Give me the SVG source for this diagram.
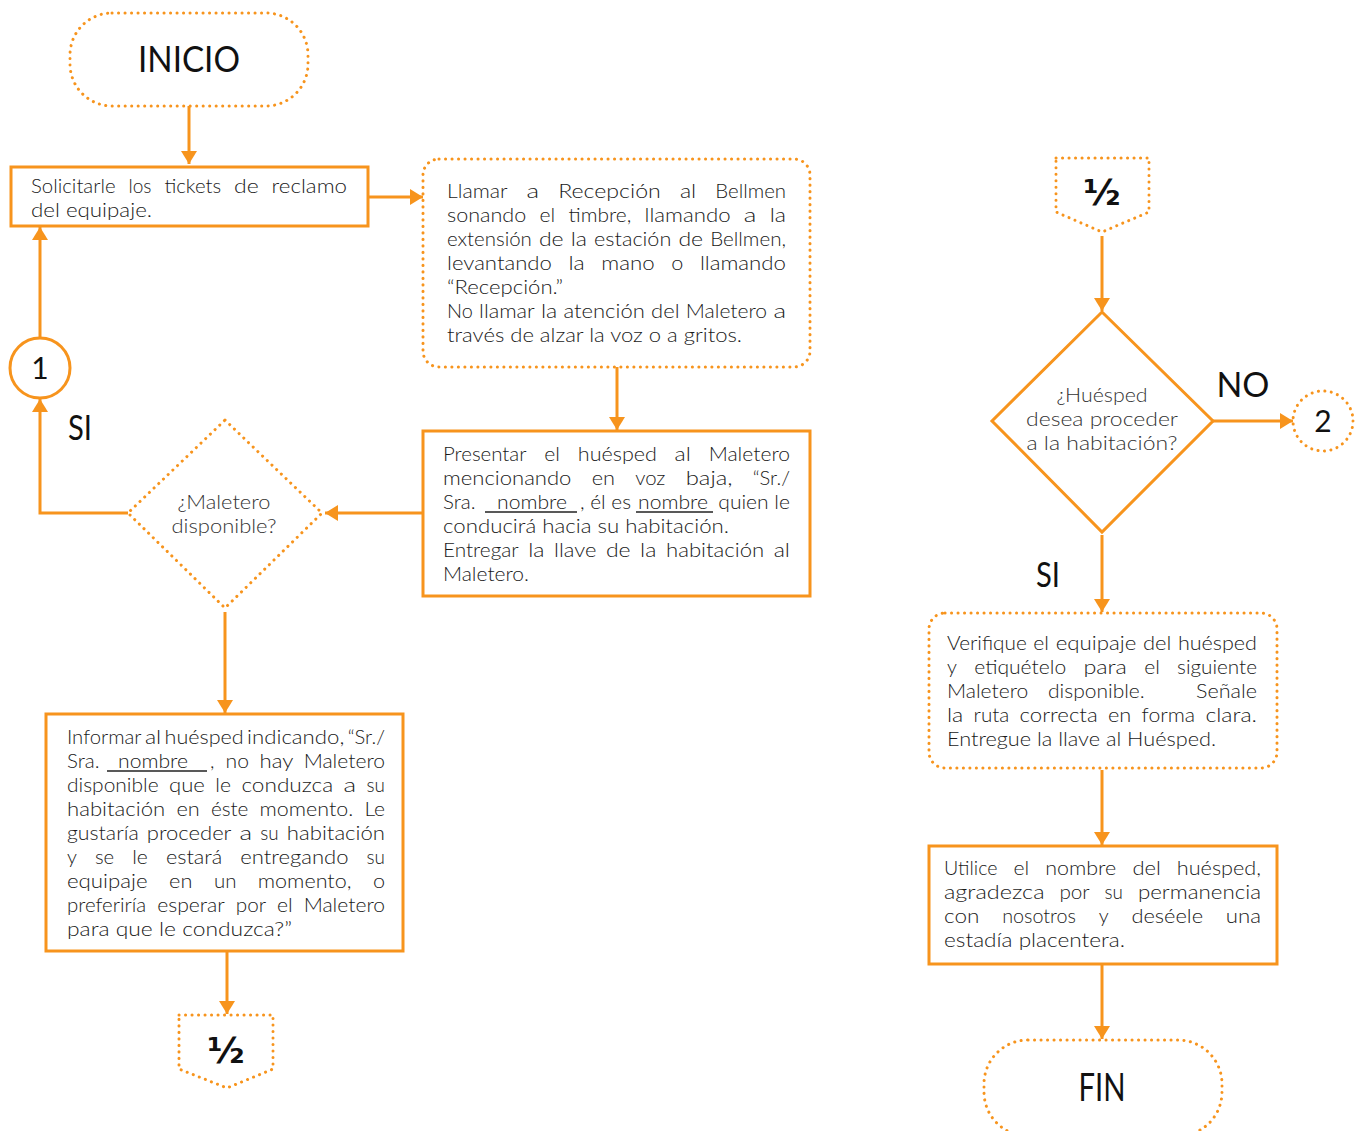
<svg xmlns="http://www.w3.org/2000/svg" width="1358" height="1131" viewBox="0 0 1358 1131">
  <defs>
    <marker id="arrow" markerUnits="userSpaceOnUse" markerWidth="14" markerHeight="16" refX="13" refY="8" orient="auto">
      <path d="M0,0 L13,8 L0,16 z" fill="#F7941D"/>
    </marker>
    <style>
      .solid { fill: #fff; stroke: #F7941D; stroke-width: 3; }
      .dotted { fill: #fff; stroke: #F7941D; stroke-width: 3; stroke-dasharray: 0.1 6.4; stroke-linecap: round; }
      .flow { fill: none; stroke: #F7941D; stroke-width: 3; marker-end: url(#arrow); }
      text { font-family: "Lato", "Noto Sans", sans-serif; font-weight: 300; font-size: 20px; fill: #1a1a1a; }
      .ask { fill: #333; text-anchor: middle; }
      .title { font-weight: 400; fill: #111; text-anchor: middle; }
      .t30 { font-size: 30px; }
      .t34 { font-size: 34px; }
      .t36 { font-size: 36px; }
      .t38 { font-size: 38px; }
      .half { font-family: "DejaVu Sans", sans-serif; font-weight: bold; font-size: 36px; fill: #111; text-anchor: middle; }
      .ul { stroke: #222; stroke-width: 1.3; }
    </style>
  </defs>
  <rect width="1358" height="1131" fill="#fff"/>

  <!-- connectors -->
  <g id="connectors">
    <path class="flow" d="M189,106 V164"/>
    <path class="flow" d="M368,197 H423"/>
    <path class="flow" d="M617,367 V430"/>
    <path class="flow" d="M423,513 H325"/>
    <path class="flow" d="M128,513 H40 V399"/>
    <path class="flow" d="M40,338 V227"/>
    <path class="flow" d="M225,612 V713"/>
    <path class="flow" d="M227,952 V1014"/>
    <path class="flow" d="M1102,236 V311"/>
    <path class="flow" d="M1213,421 H1293"/>
    <path class="flow" d="M1102,535 V612"/>
    <path class="flow" d="M1102,770 V845"/>
    <path class="flow" d="M1102,965 V1039"/>
  </g>

  <g id="inicio">
    <rect class="dotted" x="70" y="13" width="238" height="93" rx="42"/>
    <text class="title t36" x="189" y="72" textLength="102" lengthAdjust="spacingAndGlyphs">INICIO</text>
  </g>

  <!-- justified paragraphs: one text per word so the gaps spread evenly -->
  <g id="solicitar">
    <rect class="solid" x="11" y="167" width="357" height="59"/>
    <text x="31" y="193" textLength="84.6" lengthAdjust="spacingAndGlyphs">Solicitarle</text>
    <text x="128.5" y="193" textLength="23" lengthAdjust="spacingAndGlyphs">los</text>
    <text x="164.4" y="193" textLength="56.7" lengthAdjust="spacingAndGlyphs">tickets</text>
    <text x="234" y="193" textLength="24.7" lengthAdjust="spacingAndGlyphs">de</text>
    <text x="271.6" y="193" textLength="75.4" lengthAdjust="spacingAndGlyphs">reclamo</text>
    <text x="31" y="217" textLength="121" lengthAdjust="spacingAndGlyphs">del equipaje.</text>
  </g>

  <g id="llamar">
    <rect class="dotted" x="423" y="159" width="387" height="208" rx="16"/>
    <text x="447" y="198" textLength="60.4" lengthAdjust="spacingAndGlyphs">Llamar</text>
    <text x="526.5" y="198" textLength="12.6" lengthAdjust="spacingAndGlyphs">a</text>
    <text x="558.2" y="198" textLength="102.6" lengthAdjust="spacingAndGlyphs">Recepción</text>
    <text x="679.9" y="198" textLength="16.3" lengthAdjust="spacingAndGlyphs">al</text>
    <text x="715.3" y="198" textLength="70.7" lengthAdjust="spacingAndGlyphs">Bellmen</text>

    <text x="447" y="222" textLength="79.3" lengthAdjust="spacingAndGlyphs">sonando</text>
    <text x="539.6" y="222" textLength="15.7" lengthAdjust="spacingAndGlyphs">el</text>
    <text x="568.5" y="222" textLength="62.7" lengthAdjust="spacingAndGlyphs">timbre,</text>
    <text x="644.5" y="222" textLength="86.1" lengthAdjust="spacingAndGlyphs">llamando</text>
    <text x="743.8" y="222" textLength="12.6" lengthAdjust="spacingAndGlyphs">a</text>
    <text x="769.7" y="222" textLength="16.3" lengthAdjust="spacingAndGlyphs">la</text>

    <text x="447" y="246" textLength="84.8" lengthAdjust="spacingAndGlyphs">extensión</text>
    <text x="538.9" y="246" textLength="24.7" lengthAdjust="spacingAndGlyphs">de</text>
    <text x="570.7" y="246" textLength="16.3" lengthAdjust="spacingAndGlyphs">la</text>
    <text x="594.1" y="246" textLength="77.2" lengthAdjust="spacingAndGlyphs">estación</text>
    <text x="678.4" y="246" textLength="24.7" lengthAdjust="spacingAndGlyphs">de</text>
    <text x="710.2" y="246" textLength="75.8" lengthAdjust="spacingAndGlyphs">Bellmen,</text>

    <text x="447" y="270" textLength="104.9" lengthAdjust="spacingAndGlyphs">levantando</text>
    <text x="568.5" y="270" textLength="16.3" lengthAdjust="spacingAndGlyphs">la</text>
    <text x="601.3" y="270" textLength="53.4" lengthAdjust="spacingAndGlyphs">mano</text>
    <text x="671.3" y="270" textLength="12.1" lengthAdjust="spacingAndGlyphs">o</text>
    <text x="699.9" y="270" textLength="86.1" lengthAdjust="spacingAndGlyphs">llamando</text>

    <text x="447" y="294" textLength="116" lengthAdjust="spacingAndGlyphs">“Recepción.”</text>

    <text x="447" y="318" textLength="25.8" lengthAdjust="spacingAndGlyphs">No</text>
    <text x="479.1" y="318" textLength="55.6" lengthAdjust="spacingAndGlyphs">llamar</text>
    <text x="541" y="318" textLength="16.3" lengthAdjust="spacingAndGlyphs">la</text>
    <text x="563.5" y="318" textLength="81.3" lengthAdjust="spacingAndGlyphs">atención</text>
    <text x="651.1" y="318" textLength="28.4" lengthAdjust="spacingAndGlyphs">del</text>
    <text x="685.8" y="318" textLength="81.3" lengthAdjust="spacingAndGlyphs">Maletero</text>
    <text x="773.4" y="318" textLength="12.6" lengthAdjust="spacingAndGlyphs">a</text>

    <text x="447" y="342" textLength="295" lengthAdjust="spacingAndGlyphs">través de alzar la voz o a gritos.</text>
  </g>

  <g id="presentar">
    <rect class="solid" x="423" y="431" width="387" height="165"/>
    <text x="443" y="461" textLength="83.5" lengthAdjust="spacingAndGlyphs">Presentar</text>
    <text x="544.3" y="461" textLength="15.7" lengthAdjust="spacingAndGlyphs">el</text>
    <text x="577.8" y="461" textLength="79.1" lengthAdjust="spacingAndGlyphs">huésped</text>
    <text x="674.6" y="461" textLength="16.3" lengthAdjust="spacingAndGlyphs">al</text>
    <text x="708.7" y="461" textLength="81.3" lengthAdjust="spacingAndGlyphs">Maletero</text>

    <text x="443" y="485" textLength="128.4" lengthAdjust="spacingAndGlyphs">mencionando</text>
    <text x="591.7" y="485" textLength="23.3" lengthAdjust="spacingAndGlyphs">en</text>
    <text x="635.2" y="485" textLength="30.2" lengthAdjust="spacingAndGlyphs">voz</text>
    <text x="685.7" y="485" textLength="46.8" lengthAdjust="spacingAndGlyphs">baja,</text>
    <text x="752.7" y="485" textLength="37.3" lengthAdjust="spacingAndGlyphs">“Sr./</text>

    <text x="443" y="509" textLength="32.5" lengthAdjust="spacingAndGlyphs">Sra.</text>
    <text x="497" y="509" textLength="70" lengthAdjust="spacingAndGlyphs">nombre</text>
    <line class="ul" x1="485" y1="512" x2="577" y2="512"/>
    <text x="580" y="509" textLength="51" lengthAdjust="spacingAndGlyphs">, él es</text>
    <text x="638" y="509" textLength="70" lengthAdjust="spacingAndGlyphs">nombre</text>
    <line class="ul" x1="636" y1="512" x2="713" y2="512"/>
    <text x="718.3" y="509" textLength="71.7" lengthAdjust="spacingAndGlyphs">quien le</text>

    <text x="443" y="533" textLength="286" lengthAdjust="spacingAndGlyphs">conducirá hacia su habitación.</text>

    <text x="443" y="557" textLength="75.7" lengthAdjust="spacingAndGlyphs">Entregar</text>
    <text x="528.2" y="557" textLength="16.3" lengthAdjust="spacingAndGlyphs">la</text>
    <text x="554.1" y="557" textLength="42.3" lengthAdjust="spacingAndGlyphs">llave</text>
    <text x="605.9" y="557" textLength="24.7" lengthAdjust="spacingAndGlyphs">de</text>
    <text x="640.1" y="557" textLength="16.3" lengthAdjust="spacingAndGlyphs">la</text>
    <text x="666" y="557" textLength="98.2" lengthAdjust="spacingAndGlyphs">habitación</text>
    <text x="773.7" y="557" textLength="16.3" lengthAdjust="spacingAndGlyphs">al</text>

    <text x="443" y="581" textLength="86" lengthAdjust="spacingAndGlyphs">Maletero.</text>
  </g>

  <g id="maletero-disponible">
    <path class="dotted" d="M225,420 L322,513 L225,608 L128,513 Z"/>
    <text class="ask" x="224" y="509" textLength="93" lengthAdjust="spacingAndGlyphs">¿Maletero</text>
    <text class="ask" x="224" y="533" textLength="105" lengthAdjust="spacingAndGlyphs">disponible?</text>
  </g>

  <g id="conector-1">
    <circle class="solid" cx="40" cy="368" r="30"/>
    <text class="title t30" x="40" y="379">1</text>
  </g>
  <text class="title t34" x="80" y="440" textLength="24" lengthAdjust="spacingAndGlyphs">SI</text>

  <g id="informar">
    <rect class="solid" x="46" y="714" width="357" height="237"/>
    <text x="67" y="744" textLength="74.5" lengthAdjust="spacingAndGlyphs">Informar</text>
    <text x="144.9" y="744" textLength="16.3" lengthAdjust="spacingAndGlyphs">al</text>
    <text x="164.6" y="744" textLength="79.1" lengthAdjust="spacingAndGlyphs">huésped</text>
    <text x="247.1" y="744" textLength="97.2" lengthAdjust="spacingAndGlyphs">indicando,</text>
    <text x="347.7" y="744" textLength="37.3" lengthAdjust="spacingAndGlyphs">“Sr./</text>

    <text x="67" y="768" textLength="32.5" lengthAdjust="spacingAndGlyphs">Sra.</text>
    <text x="118" y="768" textLength="70" lengthAdjust="spacingAndGlyphs">nombre</text>
    <line class="ul" x1="107" y1="771" x2="207" y2="771"/>
    <text x="210" y="768">,</text>
    <text x="225.6" y="768" textLength="23.4" lengthAdjust="spacingAndGlyphs">no</text>
    <text x="259.5" y="768" textLength="33.8" lengthAdjust="spacingAndGlyphs">hay</text>
    <text x="303.7" y="768" textLength="81.3" lengthAdjust="spacingAndGlyphs">Maletero</text>

    <text x="67" y="792" textLength="91.6" lengthAdjust="spacingAndGlyphs">disponible</text>
    <text x="169" y="792" textLength="35.9" lengthAdjust="spacingAndGlyphs">que</text>
    <text x="215.3" y="792" textLength="15.7" lengthAdjust="spacingAndGlyphs">le</text>
    <text x="241.4" y="792" textLength="91.8" lengthAdjust="spacingAndGlyphs">conduzca</text>
    <text x="343.6" y="792" textLength="12.6" lengthAdjust="spacingAndGlyphs">a</text>
    <text x="366.6" y="792" textLength="18.4" lengthAdjust="spacingAndGlyphs">su</text>

    <text x="67" y="816" textLength="98.2" lengthAdjust="spacingAndGlyphs">habitación</text>
    <text x="176.4" y="816" textLength="23.3" lengthAdjust="spacingAndGlyphs">en</text>
    <text x="210.9" y="816" textLength="37.5" lengthAdjust="spacingAndGlyphs">éste</text>
    <text x="259.6" y="816" textLength="93.6" lengthAdjust="spacingAndGlyphs">momento.</text>
    <text x="364.4" y="816" textLength="20.6" lengthAdjust="spacingAndGlyphs">Le</text>

    <text x="67" y="840" textLength="71.7" lengthAdjust="spacingAndGlyphs">gustaría</text>
    <text x="146.8" y="840" textLength="84.6" lengthAdjust="spacingAndGlyphs">proceder</text>
    <text x="239.6" y="840" textLength="12.6" lengthAdjust="spacingAndGlyphs">a</text>
    <text x="260.3" y="840" textLength="18.4" lengthAdjust="spacingAndGlyphs">su</text>
    <text x="286.8" y="840" textLength="98.2" lengthAdjust="spacingAndGlyphs">habitación</text>

    <text x="67" y="864" textLength="9.9" lengthAdjust="spacingAndGlyphs">y</text>
    <text x="94.9" y="864" textLength="19.2" lengthAdjust="spacingAndGlyphs">se</text>
    <text x="132.2" y="864" textLength="15.7" lengthAdjust="spacingAndGlyphs">le</text>
    <text x="165.9" y="864" textLength="56.3" lengthAdjust="spacingAndGlyphs">estará</text>
    <text x="240.3" y="864" textLength="108.3" lengthAdjust="spacingAndGlyphs">entregando</text>
    <text x="366.6" y="864" textLength="18.4" lengthAdjust="spacingAndGlyphs">su</text>

    <text x="67" y="888" textLength="80.6" lengthAdjust="spacingAndGlyphs">equipaje</text>
    <text x="169.1" y="888" textLength="23.3" lengthAdjust="spacingAndGlyphs">en</text>
    <text x="213.9" y="888" textLength="22.5" lengthAdjust="spacingAndGlyphs">un</text>
    <text x="257.8" y="888" textLength="93.6" lengthAdjust="spacingAndGlyphs">momento,</text>
    <text x="372.9" y="888" textLength="12.1" lengthAdjust="spacingAndGlyphs">o</text>

    <text x="67" y="912" textLength="79.2" lengthAdjust="spacingAndGlyphs">preferiría</text>
    <text x="157.2" y="912" textLength="67.6" lengthAdjust="spacingAndGlyphs">esperar</text>
    <text x="235.8" y="912" textLength="30.3" lengthAdjust="spacingAndGlyphs">por</text>
    <text x="277" y="912" textLength="15.7" lengthAdjust="spacingAndGlyphs">el</text>
    <text x="303.7" y="912" textLength="81.3" lengthAdjust="spacingAndGlyphs">Maletero</text>

    <text x="67" y="936" textLength="225" lengthAdjust="spacingAndGlyphs">para que le conduzca?”</text>
  </g>

  <g id="pagina-sig">
    <path class="dotted" d="M179,1015 H273 V1069 L227,1088 L179,1069 Z"/>
    <text class="half" x="226" y="1063">½</text>
  </g>

  <g id="pagina-ant">
    <path class="dotted" d="M1056,158 H1149 V212 L1102,232 L1056,212 Z"/>
    <text class="half" x="1102" y="205">½</text>
  </g>

  <g id="huesped-procede">
    <path class="solid" d="M1102,312 L1213,421 L1102,532 L992,421 Z"/>
    <text class="ask" x="1102" y="402" textLength="91" lengthAdjust="spacingAndGlyphs">¿Huésped</text>
    <text class="ask" x="1102" y="426" textLength="152" lengthAdjust="spacingAndGlyphs">desea proceder</text>
    <text class="ask" x="1102" y="450" textLength="151" lengthAdjust="spacingAndGlyphs">a la habitación?</text>
  </g>
  <text class="title t34" x="1243" y="397" textLength="53" lengthAdjust="spacingAndGlyphs">NO</text>
  <text class="title t34" x="1048" y="587" textLength="24" lengthAdjust="spacingAndGlyphs">SI</text>

  <g id="conector-2">
    <circle class="dotted" cx="1323" cy="421" r="30"/>
    <text class="title t30" x="1323" y="432">2</text>
  </g>

  <g id="verificar">
    <rect class="dotted" x="929" y="613" width="348" height="155" rx="16"/>
    <text x="947" y="650" textLength="79.7" lengthAdjust="spacingAndGlyphs">Verifique</text>
    <text x="1033.3" y="650" textLength="15.7" lengthAdjust="spacingAndGlyphs">el</text>
    <text x="1055.7" y="650" textLength="80.6" lengthAdjust="spacingAndGlyphs">equipaje</text>
    <text x="1142.9" y="650" textLength="28.4" lengthAdjust="spacingAndGlyphs">del</text>
    <text x="1177.9" y="650" textLength="79.1" lengthAdjust="spacingAndGlyphs">huésped</text>

    <text x="947" y="674" textLength="9.9" lengthAdjust="spacingAndGlyphs">y</text>
    <text x="974.2" y="674" textLength="92" lengthAdjust="spacingAndGlyphs">etiquételo</text>
    <text x="1083.4" y="674" textLength="43.5" lengthAdjust="spacingAndGlyphs">para</text>
    <text x="1144.2" y="674" textLength="15.7" lengthAdjust="spacingAndGlyphs">el</text>
    <text x="1177.1" y="674" textLength="79.9" lengthAdjust="spacingAndGlyphs">siguiente</text>

    <text x="947" y="698" textLength="81.3" lengthAdjust="spacingAndGlyphs">Maletero</text>
    <text x="1048" y="698" textLength="96.7" lengthAdjust="spacingAndGlyphs">disponible.</text>
    <text x="1196.1" y="698" textLength="60.9" lengthAdjust="spacingAndGlyphs">Señale</text>

    <text x="947" y="722" textLength="16.3" lengthAdjust="spacingAndGlyphs">la</text>
    <text x="973.6" y="722" textLength="35.7" lengthAdjust="spacingAndGlyphs">ruta</text>
    <text x="1019.6" y="722" textLength="78.1" lengthAdjust="spacingAndGlyphs">correcta</text>
    <text x="1108" y="722" textLength="23.3" lengthAdjust="spacingAndGlyphs">en</text>
    <text x="1141.6" y="722" textLength="53.5" lengthAdjust="spacingAndGlyphs">forma</text>
    <text x="1205.4" y="722" textLength="51.6" lengthAdjust="spacingAndGlyphs">clara.</text>

    <text x="947" y="746" textLength="269" lengthAdjust="spacingAndGlyphs">Entregue la llave al Huésped.</text>
  </g>

  <g id="despedir">
    <rect class="solid" x="929" y="846" width="348" height="118"/>
    <text x="944" y="875" textLength="53.5" lengthAdjust="spacingAndGlyphs">Utilice</text>
    <text x="1013.6" y="875" textLength="15.7" lengthAdjust="spacingAndGlyphs">el</text>
    <text x="1045.3" y="875" textLength="71" lengthAdjust="spacingAndGlyphs">nombre</text>
    <text x="1132.4" y="875" textLength="28.4" lengthAdjust="spacingAndGlyphs">del</text>
    <text x="1176.8" y="875" textLength="84.2" lengthAdjust="spacingAndGlyphs">huésped,</text>

    <text x="944" y="899" textLength="100.5" lengthAdjust="spacingAndGlyphs">agradezca</text>
    <text x="1059.4" y="899" textLength="30.3" lengthAdjust="spacingAndGlyphs">por</text>
    <text x="1104.6" y="899" textLength="18.4" lengthAdjust="spacingAndGlyphs">su</text>
    <text x="1137.9" y="899" textLength="123.1" lengthAdjust="spacingAndGlyphs">permanencia</text>

    <text x="944" y="923" textLength="35.4" lengthAdjust="spacingAndGlyphs">con</text>
    <text x="1002.2" y="923" textLength="73.8" lengthAdjust="spacingAndGlyphs">nosotros</text>
    <text x="1098.7" y="923" textLength="9.9" lengthAdjust="spacingAndGlyphs">y</text>
    <text x="1131.4" y="923" textLength="71.7" lengthAdjust="spacingAndGlyphs">deséele</text>
    <text x="1225.8" y="923" textLength="35.2" lengthAdjust="spacingAndGlyphs">una</text>

    <text x="944" y="947" textLength="181" lengthAdjust="spacingAndGlyphs">estadía placentera.</text>
  </g>

  <g id="fin">
    <rect class="dotted" x="984" y="1040" width="238" height="96" rx="44"/>
    <text class="title t38" x="1102" y="1101" textLength="47" lengthAdjust="spacingAndGlyphs">FIN</text>
  </g>
</svg>
